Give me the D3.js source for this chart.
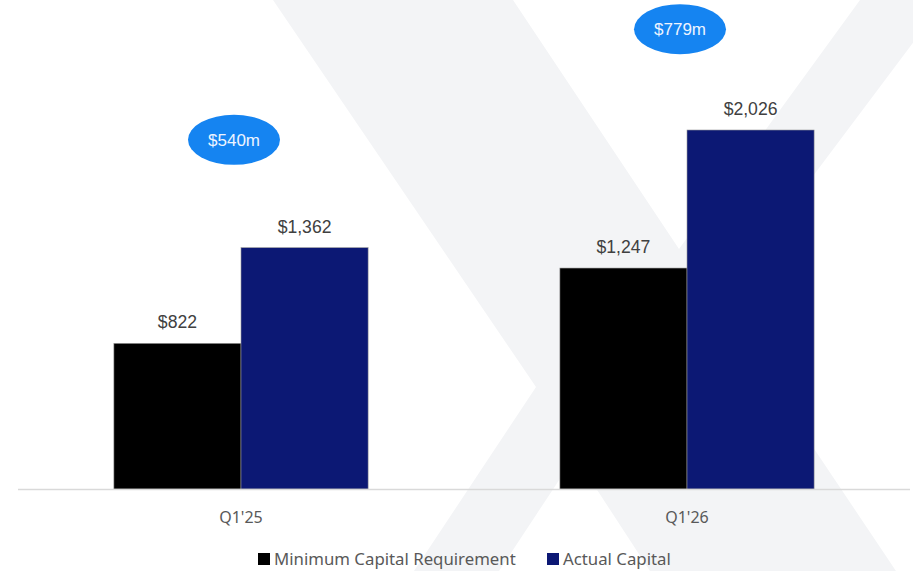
<!DOCTYPE html>
<html>
<head>
<meta charset="utf-8">
<script src="https://cdn.jsdelivr.net/npm/d3@7"></script>
<style>
  body { margin: 0; background: #fff; }
  svg { display: block; }
</style>
</head>
<body>
<div id="chart"></div>
<script>
var categories = ["Q1'25", "Q1'26"];
var minCapital = [822, 1247];
var actualCapital = [1362, 2026];
var seriesNames = ["Minimum Capital Requirement", "Actual Capital"];
var seriesColors = ["#000000", "#0c1874"];

var width = 913, height = 571;
var svg = d3.select("#chart").append("svg")
    .attr("width", width)
    .attr("height", height);

// background "X" mark
var xMark = [[273,0],[513,0],[679,249],[860,0],[945,0],[717,304],[896,571],
             [650,571],[575,456],[499,571],[414,571],[536,387]];
svg.append("path")
    .attr("d", "M" + xMark.join("L") + "Z")
    .attr("fill", "#f3f4f6");

var box = {xmin: 18, xmax: 910, ybase: 489};

var x = d3.scaleBand()
    .domain(categories)
    .range([box.xmin, box.xmax])
    .paddingInner(0.43)
    .paddingOuter(0.215);
var sub = d3.scaleBand()
    .domain(d3.range(2))
    .range([0, x.bandwidth()]);
var y = d3.scaleLinear()
    .domain([0, 2500])
    .range([box.ybase, box.ybase - 2500 * 0.1772]);

var rows = categories.map(function(c, i) {
    return {cat: c, vals: [minCapital[i], actualCapital[i]]};
});

var group = svg.selectAll(".grp")
    .data(rows)
    .enter().append("g")
        .attr("class", "grp")
        .attr("transform", function(d) { return "translate(" + x(d.cat) + ",0)"; });

group.selectAll("rect")
    .data(function(d) { return d.vals; })
    .enter().append("rect")
        .attr("x", function(d, i) { return sub(i); })
        .attr("y", function(d) { return y(d); })
        .attr("width", sub.bandwidth())
        .attr("height", function(d) { return y(0) - y(d); })
        .attr("fill", function(d, i) { return seriesColors[i]; })
        .attr("stroke", "#9a9a9a")
        .attr("stroke-width", 0.6);

// value labels
group.selectAll(".valueLabel")
    .data(function(d) { return d.vals; })
    .enter().append("text")
        .attr("class", "valueLabel")
        .attr("text-anchor", "middle")
        .attr("x", function(d, i) { return sub(i) + sub.bandwidth() / 2; })
        .attr("y", function(d) { return y(d) - 15; })
        .style("font-family", "'Liberation Sans', Arial, sans-serif")
        .style("font-size", "17.6px")
        .attr("fill", "#404040")
        .text(function(d) { return "$" + d3.format(",")(d); });

// difference bubbles
var bubble = group.append("g")
    .attr("transform", function(d) {
        return "translate(" + (x.bandwidth() / 2 - 7) + "," + (y(d.vals[1]) * 0.94 - 93) + ")";
    });
bubble.append("ellipse")
    .attr("rx", 46)
    .attr("ry", 25)
    .attr("fill", "#1584f1");
bubble.append("text")
    .attr("text-anchor", "middle")
    .attr("dy", "0.35em")
    .style("font-family", "'Liberation Sans', Arial, sans-serif")
    .style("font-size", "17px")
    .attr("fill", "#eef4ff")
    .text(function(d) { return "$" + (d.vals[1] - d.vals[0]) + "m"; });

//axis line
svg.append("line")
    .attr("x1", box.xmin)
    .attr("x2", box.xmax)
    .attr("y1", box.ybase + 0.5)
    .attr("y2", box.ybase + 0.5)
    .attr("stroke", "#d9d9d9")
    .attr("stroke-width", 1.5);

// category labels
svg.selectAll(".axisLabel")
    .data(categories)
    .enter().append("text")
        .attr("class", "axisLabel")
        .attr("text-anchor", "middle")
        .attr("x", function(d) { return x(d) + x.bandwidth() / 2; })
        .attr("y", 523)
        .style("font-family", "'Noto Sans', sans-serif")
        .style("font-size", "16px")
        .attr("fill", "#595959")
        .text(function(d) { return d; });

// legend
var legendX = [258, 547];
var legend = svg.selectAll(".legend")
    .data(seriesNames)
    .enter().append("g")
        .attr("class", "legend")
        .attr("transform", function(d, i) { return "translate(" + legendX[i] + ",553)"; });
legend.append("rect")
    .attr("width", 12)
    .attr("height", 12)
    .attr("fill", function(d, i) { return seriesColors[i]; });
legend.append("text")
    .attr("x", 16)
    .attr("y", 12)
    .style("font-family", "'Noto Sans', sans-serif")
    .style("font-size", "16.8px")
    .attr("fill", "#595959")
    .text(function(d) { return d; });
</script>
</body>
</html>
